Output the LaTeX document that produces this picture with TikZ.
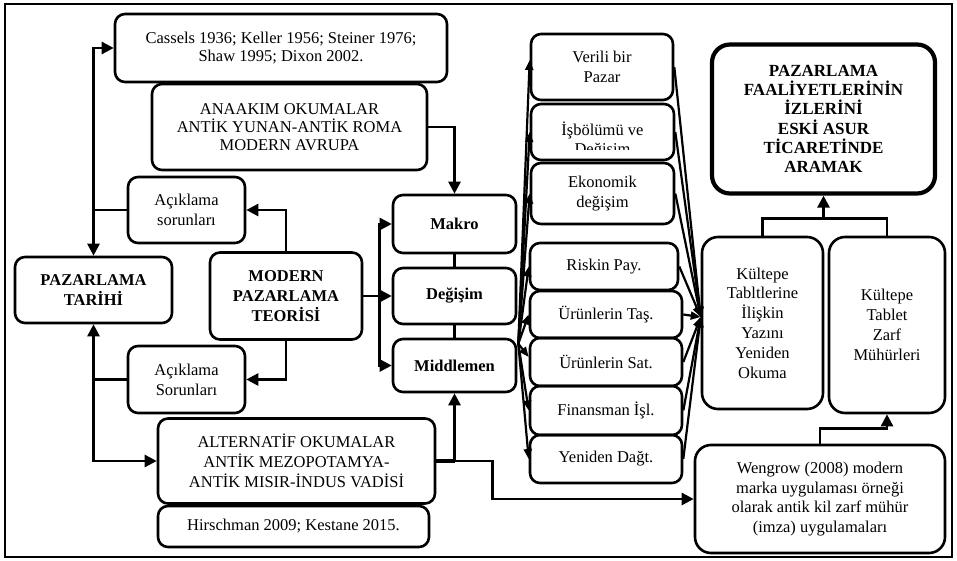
\documentclass[tikz,border=0pt]{standalone}
\usepackage{fontspec}
\setmainfont{Liberation Serif}
\usetikzlibrary{arrows.meta}
\tikzset{
 box/.style={draw, line width=2.6pt, rounded corners=10pt, align=center, inner sep=2pt, font=\fontsize{16.5}{19.8}\selectfont},
 bbox/.style={box, font=\fontsize{16.5}{19.8}\selectfont\bfseries},
 tbox/.style={box, font=\fontsize{16.5}{18.3}\selectfont},
 ln/.style={line width=2.6pt},
 arr/.style={ln, -{Triangle[length=12pt,width=12pt]}},
 farr/.style={line width=2.2pt, -{Triangle[length=10pt,width=8pt]}},
}
\begin{document}
\begin{tikzpicture}[x=1pt,y=-1pt]
\useasboundingbox (0,0) rectangle (957,561);
\draw[line width=2.6pt] (5,4) rectangle (952,557);
% left part
\node[tbox, minimum width=332pt, minimum height=68pt] (cas) at (281,48) {Cassels 1936; Keller 1956; Steiner 1976;\\Shaw 1995; Dixon 2002.};
\node[tbox, minimum width=275pt, minimum height=86pt] (ana) at (289.5,127) {ANAAKIM OKUMALAR\\ANTİK YUNAN-ANTİK ROMA\\MODERN AVRUPA};
\node[box, minimum width=117pt, minimum height=66pt] (aci1) at (186.5,210) {Açıklama\\sorunları};
\node[bbox, minimum width=157pt, minimum height=66pt] (pt) at (93.5,290) {PAZARLAMA\\TARİHİ};
\node[bbox, minimum width=152pt, minimum height=87pt] (mpt) at (286,296) {MODERN\\PAZARLAMA\\TEORİSİ};
\node[box, minimum width=117pt, minimum height=67pt] (aci2) at (186.5,379.5) {Açıklama\\Sorunları};
\node[box, minimum width=277pt, minimum height=85pt] (alt) at (296.5,461) {ALTERNATİF OKUMALAR\\ANTİK MEZOPOTAMYA-\\ANTİK MISIR-İNDUS VADİSİ};
\node[box, minimum width=271pt, minimum height=41pt] (hir) at (293.5,526.5) {Hirschman 2009; Kestane 2015.};
% middle column
\node[bbox, minimum width=123pt, minimum height=58pt] (makro) at (454.5,224) {Makro};
\node[bbox, minimum width=123pt, minimum height=56pt] (deg) at (454.5,296) {Değişim};
\node[bbox, minimum width=123pt, minimum height=53pt] (mid) at (454.5,365.5) {Middlemen};
% right column of functions
\node[box, minimum width=142pt, minimum height=66pt] (ver) at (602,67) {Verili bir\\Pazar};
\node[box, minimum width=143pt, minimum height=56pt] (isb) at (602.5,132) {};
\begin{scope}
\clip (531,104) rectangle (674,150);
\node[box, draw=none] (isbt) at (602.5,140) {İşbölümü ve\\Değişim};
\end{scope}
\node[box, minimum width=143pt, minimum height=61pt] (eko) at (602.5,193.5) {Ekonomik\\değişim};
\node[box, minimum width=148pt, minimum height=47pt] (ris) at (604,266.5) {Riskin Pay.};
\node[box, minimum width=152pt, minimum height=47pt] (tas) at (606,314.5) {Ürünlerin Taş.};
\node[box, minimum width=152pt, minimum height=48pt] (sat) at (606,362) {Ürünlerin Sat.};
\node[box, minimum width=152pt, minimum height=49pt] (fin) at (606,410.5) {Finansman İşl.};
\node[box, minimum width=152pt, minimum height=48pt] (yen) at (606,459) {Yeniden Dağt.};
% far right
\node[bbox, line width=4.2pt, rounded corners=18pt, font=\fontsize{17}{19.3}\selectfont\bfseries, minimum width=223pt, minimum height=149pt] (big) at (823.5,119) {PAZARLAMA\\FAALİYETLERİNİN\\İZLERİNİ\\ESKİ ASUR\\TİCARETİNDE\\ARAMAK};
\node[box, rounded corners=16pt, minimum width=121pt, minimum height=172pt] (k1) at (762.5,323) {Kültepe\\Tabltlerine\\İlişkin\\Yazını\\Yeniden\\Okuma};
\node[box, rounded corners=16pt, minimum width=116pt, minimum height=176pt] (k2) at (887,325) {Kültepe\\Tablet\\Zarf\\Mühürleri};
\node[box, rounded corners=16pt, minimum width=250pt, minimum height=108pt] (wen) at (820,499) {Wengrow (2008) modern\\marka uygulaması örneği\\olarak antik kil zarf mühür\\(imza) uygulamaları};
% connectors left
\coordinate (j1) at (pt.north |- aci1.west);
\draw[arr] (aci1.west) -- (j1) |- (cas.west);
\draw[arr] (j1) -- (pt.north);
\coordinate (j2) at (pt.south |- aci2.west);
\draw[arr] (aci2.west) -- (j2) -- (pt.south);
\draw[arr] (j2) |- (alt.west);
\draw[arr] (mpt.north) |- (aci1.east);
\draw[arr] (mpt.south) |- (aci2.east);
\coordinate (j3) at ([xshift=16pt]mpt.east);
\draw[arr] (mpt.east) -- (deg.west);
\draw[arr] (j3) |- (makro.west);
\draw[arr] (j3) |- (mid.west);
\draw[arr] (ana.east) -| (makro.north);
\draw[ln] (makro.south) -- (deg.north);
\draw[ln] (deg.south) -- (mid.north);
\coordinate (j4) at (mid.south |- alt.east);
\draw[line width=4.5pt] (alt.east) -- (j4);
\draw[arr] (j4) -- (mid.south);
\coordinate (j5) at ([xshift=38pt]j4);
\draw[arr] (j4) -- (j5) |- (wen.west);
% connectors right
\draw[arr] (wen.north) -- ++(0,-15) -| (k2.south);
\coordinate (j6) at ([yshift=-23pt]big.south);
\draw[ln] (k1.north) |- (j6) -| (k2.north);
\draw[arr] (j6) -- (big.south);
% fans
\coordinate (fo) at ([xshift=1pt,yshift=-6pt]mid.north east);
\foreach \t/\s in {ver/7,isb/0,eko/0,ris/0,tas/0,sat/5,fin/0,yen/0}
  \draw[farr] (fo) -- ([yshift=\s pt]\t.west);
\coordinate (cv) at ([yshift=6pt]k1.west);
\foreach \t in {ver,isb,eko,ris,tas,sat,fin,yen}
  \draw[farr] (\t.east) -- (cv);
\end{tikzpicture}
\end{document}
